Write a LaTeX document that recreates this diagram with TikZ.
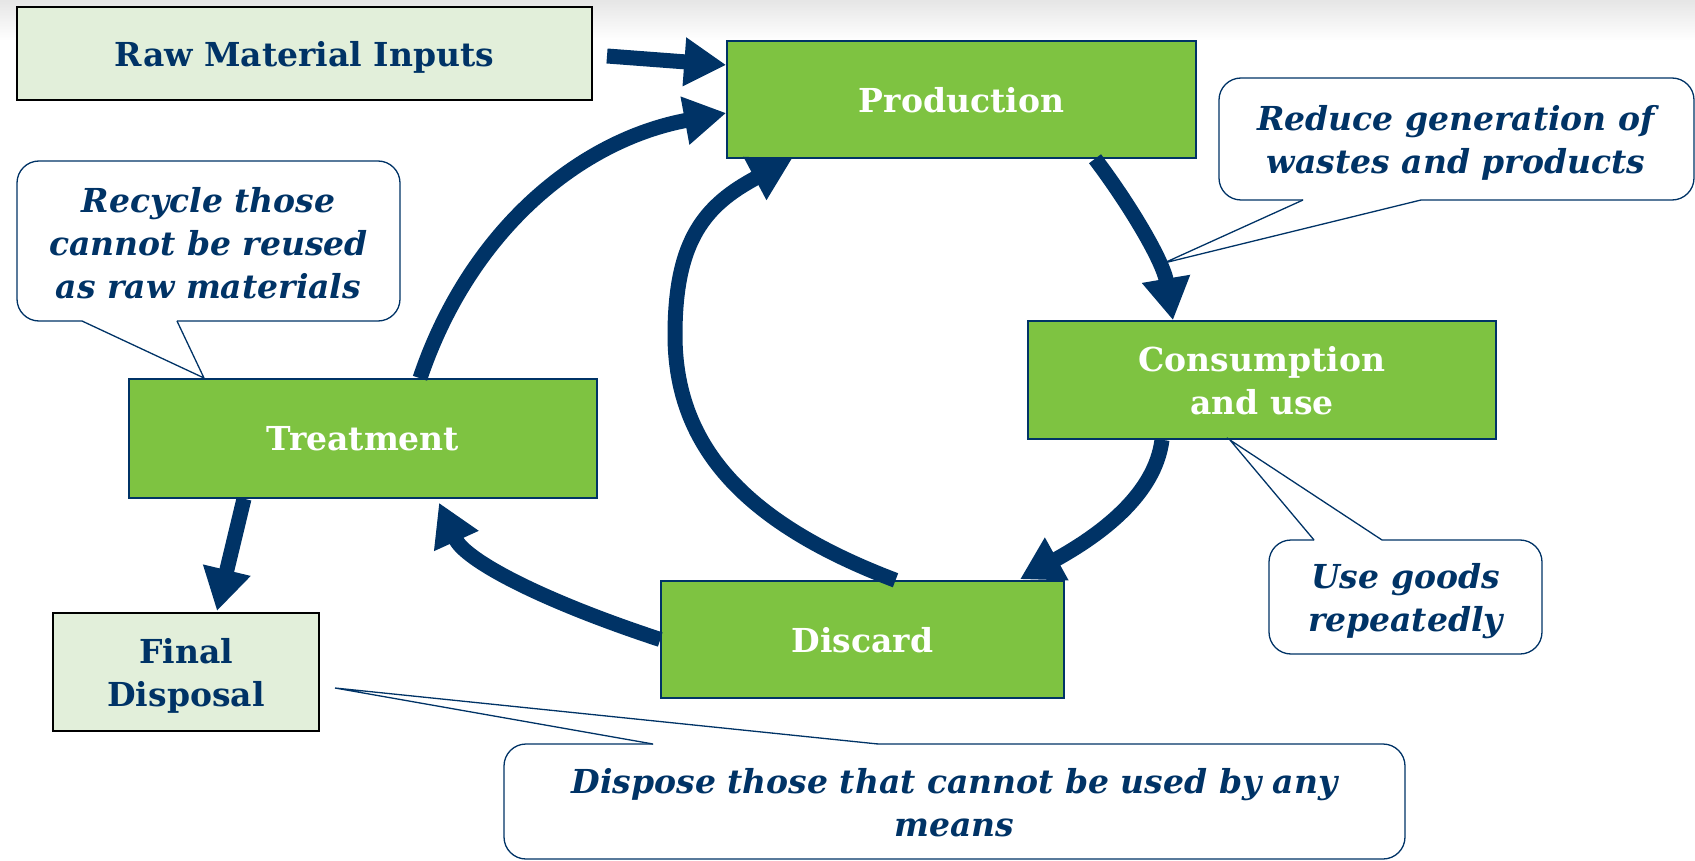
\documentclass[tikz,border=0pt]{standalone}
\usepackage{fontspec}
\setmainfont{DejaVu Serif}
\usetikzlibrary{arrows.meta,calc}

\definecolor{navy}{RGB}{0,51,102}
\definecolor{leaf}{RGB}{126,195,65}
\definecolor{pale}{RGB}{226,239,218}

\tikzset{
  stage/.style={draw=navy, line width=1.5pt, fill=leaf, text=white,
    font=\fontsize{33}{43}\selectfont\bfseries, align=center, inner sep=0pt,
    text depth=0pt},
  endbox/.style={draw=black, line width=2pt, fill=pale, text=navy,
    font=\fontsize{33}{43}\selectfont\bfseries, align=center, inner sep=0pt,
    text depth=0pt},
  note/.style={text=navy, font=\fontsize{33}{43}\selectfont\bfseries\itshape,
    align=center, inner sep=0pt, text depth=0pt},
  bubble/.style={draw=navy, line width=1.3pt, fill=white, rounded corners=22pt},
  tail/.style={draw=navy, line width=1.3pt},
  flow/.style={draw=navy, line width=15pt,
    -{Triangle[length=42pt,width=46pt]}},
}

\begin{document}
\begin{tikzpicture}[x=1pt,y=-1pt]
  \useasboundingbox (0,0) rectangle (1695,861);
  % faint header shading
  \shade[top color=black!10, bottom color=white] (0,0) rectangle (1695,40);

  % stages of the cycle
  \node[endbox, minimum width=575pt, minimum height=93pt]  (raw)   at (304.5,53.5) {Raw Material Inputs};
  \node[stage,  minimum width=469pt, minimum height=117pt] (prod)  at (961.5,99.5) {Production};
  \node[stage,  minimum width=468pt, minimum height=118pt] (cons)  at (1262,380)   {Consumption\\and use};
  \node[stage,  minimum width=468pt, minimum height=119pt] (treat) at (363,438.5)  {Treatment};
  \node[stage,  minimum width=403pt, minimum height=117pt] (disc)  at (862.5,639.5) {Discard};
  \node[endbox, minimum width=266pt, minimum height=118pt] (final) at (186,672)    {Final\\Disposal};

  % flows
  \draw[flow] ($(raw.east)+(14,2.5)$) -- ($(prod.west)+(0,-34.5)$);
  \draw[flow] ($(treat.north)+(57,0)$) .. controls (470,230) and (580,140) .. ($(prod.west)+(0,13.5)$);
  \draw[flow] ($(disc.north)+(33,0)$) .. controls (750,525) and (675,450) .. (675,335)
              .. controls (675,240) and (705,205) .. ($(prod.south)+(-169.5,0)$);
  \draw[flow] ($(prod.south)+(133.5,0)$) .. controls (1130,205) and (1163,261) .. ($(cons.north)+(-89,0)$);
  \draw[flow] ($(cons.south)+(-100,0)$) .. controls (1155,495) and (1100,535) .. ($(disc.north)+(157.5,-1)$);
  \draw[flow] (disc.west) .. controls (540,600) and (465,560) .. ($(treat.south)+(76,4)$);
  \draw[flow] ($(treat.south)+(-119,0)$) -- ($(final.north)+(31,-1)$);

  % callout: reduce
  \draw[bubble] (1219,78) rectangle (1694,200);
  \fill[white] (1304,198) -- (1420,198) -- (1421,200) -- (1164,263) -- (1303,200) -- cycle;
  \draw[tail] (1303,200) -- (1164,263) -- (1421,200);
  \node[note] (reduce) at (1456,139) {Reduce generation of\\wastes and products};

  % callout: recycle
  \draw[bubble] (17,161) rectangle (400,321);
  \fill[white] (83,319) -- (176,319) -- (177,321) -- (204,378) -- (82,321) -- cycle;
  \draw[tail] (82,321) -- (204,378) -- (177,321);
  \node[note] (recycle) at (208.5,243) {Recycle those\\cannot be reused\\as raw materials};

  % callout: use goods
  \draw[bubble] (1269,540) rectangle (1542,654);
  \fill[white] (1315,542) -- (1381,542) -- (1382,540) -- (1230,440) -- (1314,540) -- cycle;
  \draw[tail] (1314,540) -- (1230,440) -- (1382,540);
  \node[note] (reuse) at (1405.5,597) {Use goods\\repeatedly};

  % callout: dispose
  \draw[bubble] (504,744) rectangle (1405,859);
  \fill[white] (654,746) -- (877,746) -- (878,744) -- (335,688) -- (653,744) -- cycle;
  \draw[tail] (653,744) -- (335,688) -- (878,744);
  \node[note] (dispose) at (954.5,802.5) {Dispose those that cannot be used by any\\means};
\end{tikzpicture}
\end{document}
